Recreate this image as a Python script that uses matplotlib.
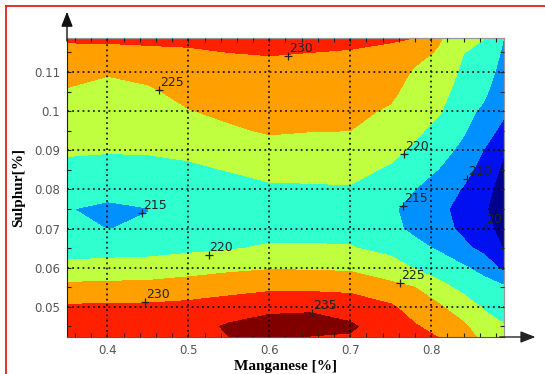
import matplotlib

matplotlib.use("Agg")
import matplotlib.pyplot as plt
import matplotlib.transforms as mtransforms
from matplotlib.lines import Line2D
from matplotlib.ticker import FixedLocator, MultipleLocator
import numpy as np

# 격자 (Mn, S) 위의 값 - 그림에서 읽은 추정치
mn = [0.35, 0.40, 0.45, 0.50, 0.55, 0.60, 0.65, 0.70, 0.75, 0.78, 0.81, 0.84, 0.865, 0.89]
s = [0.042, 0.045, 0.05, 0.055, 0.06, 0.065, 0.07, 0.075, 0.08,
     0.085, 0.09, 0.095, 0.10, 0.105, 0.11, 0.115, 0.119]

# 열 단위 (Mn 하나당 S 아래->위)
z_cols = [
    [232.3, 231.8, 230.6, 226.2, 221.4, 217.8, 215.5, 215.12, 216.0, 218.7, 220.6, 222.0, 223.3, 224.6, 226.6, 228.9, 230.7],
    [232.8, 232.3, 230.7, 226.4, 221.8, 218.1, 214.97, 214.4, 216.0, 218.5, 220.3, 221.5, 222.7, 223.9, 225.3, 228.6, 231.0],
    [233.2, 232.6, 230.8, 226.6, 222.05, 218.3, 215.2, 214.96, 215.7, 218.6, 220.4, 221.6, 222.9, 224.3, 226.3, 229.0, 231.2],
    [233.6, 233.0, 231.2, 227.5, 222.8, 219.0, 216.8, 216.1, 217.0, 219.1, 221.05, 222.9, 224.8, 226.4, 228.0, 229.6, 230.8],
    [234.9, 235.6, 232.3, 228.2, 223.9, 219.6, 217.6, 216.8, 217.9, 220.2, 222.3, 224.4, 225.9, 227.3, 228.6, 230.0, 231.3],
    [234.8, 236.1, 234.3, 228.8, 224.6, 220.6, 218.2, 217.3, 219.2, 221.35, 223.5, 225.4, 226.6, 227.8, 229.0, 230.2, 231.6],
    [234.7, 236.4, 234.4, 228.8, 224.45, 220.5, 218.4, 217.6, 219.4, 221.3, 223.2, 225.1, 226.3, 227.6, 228.8, 230.0, 231.3],
    [234.6, 235.5, 233.5, 228.4, 224.2, 220.3, 218.6, 218.1, 219.6, 221.3, 223.2, 225.0, 226.2, 227.4, 228.6, 229.8, 230.8],
    [233.5, 233.0, 230.7, 226.3, 222.1, 218.6, 216.2, 215.7, 216.9, 219.4, 221.2, 222.8, 224.4, 226.0, 227.6, 229.2, 230.5],
    [231.3, 230.4, 227.8, 225.0, 219.7, 216.4, 213.9, 213.3, 215.0, 217.2, 219.3, 220.8, 222.0, 223.1, 224.3, 226.75, 230.2],
    [230.0, 228.4, 225.6, 221.4, 217.6, 214.4, 212.0, 211.2, 212.6, 214.8, 216.8, 218.7, 220.4, 221.8, 223.1, 224.4, 225.6],
    [227.8, 225.8, 222.2, 218.8, 215.6, 211.2, 208.8, 208.2, 209.6, 211.7, 213.75, 215.5, 216.6, 217.8, 219.0, 220.1, 221.2],
    [223.6, 222.4, 219.5, 217.1, 213.3, 208.6, 206.5, 205.6, 206.6, 208.2, 209.9, 212.0, 214.1, 215.9, 217.5, 219.0, 220.2],
    [221.5, 220.3, 218.0, 215.7, 208.7, 204.7, 203.4, 202.5, 203.0, 204.0, 205.4, 208.7, 210.7, 211.8, 213.0, 214.1, 215.0],
]

levels = [200, 205, 210, 215, 220, 225, 230, 235, 240]
band_colors = ["#00008f", "#0010f0", "#0090ff", "#30ffd0",
               "#c0ff40", "#ffa000", "#ff2000", "#800000"]

# 등고선 라벨 (+ 표시 위치)
lab_x = [0.623, 0.464, 0.767, 0.844, 0.443, 0.765, 0.867, 0.525, 0.762, 0.447, 0.653]
lab_y = [0.1142, 0.1054, 0.0891, 0.0827, 0.074, 0.0758, 0.0704, 0.0632, 0.0562, 0.0513, 0.0485]
lab_txt = ["230", "225", "220", "210", "215", "215", "205", "220", "225", "230", "235"]

xticks = [0.4, 0.5, 0.6, 0.7, 0.8]
xtick_labels = ["0.4", "0.5", "0.6", "0.7", "0.8"]
yticks = [0.05, 0.06, 0.07, 0.08, 0.09, 0.10, 0.11]
ytick_labels = ["0.05", "0.06", "0.07", "0.08", "0.09", "0.1", "0.11"]

W, H = 545, 374
fig = plt.figure(figsize=(W / 100, H / 100), dpi=100)
ax = fig.add_axes([67 / W, 37 / H, 437 / W, 299 / H])

Z = np.array(z_cols).T
ax.contourf(mn, s, Z, levels=levels, colors=band_colors)

ax.set_xlim(0.35, 0.89)
ax.set_ylim(0.0423, 0.1187)

ax.xaxis.set_major_locator(FixedLocator(xticks))
ax.set_xticklabels(xtick_labels)
ax.yaxis.set_major_locator(FixedLocator(yticks))
ax.set_yticklabels(ytick_labels)
ax.xaxis.set_minor_locator(MultipleLocator(0.02))
ax.yaxis.set_minor_locator(MultipleLocator(0.005))
ax.tick_params(which="both", direction="in", top=True, right=True,
               length=3, width=0.8, color="#222", labelsize=8.5,
               labelcolor="#555")
ax.tick_params(axis="x", pad=5)
ax.tick_params(axis="y", pad=5)

ax.grid(True, which="major", color="black", linestyle=(0, (1.2, 2.2)), linewidth=1.1)
ax.set_axisbelow(False)

for side in ("top", "right"):
    ax.spines[side].set_color("#999")
    ax.spines[side].set_linewidth(0.9)
ax.spines["left"].set_color("#222")
ax.spines["bottom"].set_color("#555")

serif = dict(family="Liberation Serif", weight="bold", size=11)
ax.set_xlabel("Manganese [%]", fontdict=serif, labelpad=2)
ax.set_ylabel("Sulphur[%]", fontdict=serif, labelpad=6)

# 라벨: + 표시 와 숫자
ax.plot(lab_x, lab_y, "+", color="#222", markersize=6, markeredgewidth=0.9)
off = mtransforms.offset_copy(ax.transData, fig=fig, x=1, y=4, units="dots")
for x, y, t in zip(lab_x, lab_y, lab_txt):
    ax.text(x, y, t, transform=off, fontsize=9, color="#222",
            ha="left", va="baseline", clip_on=True)

# 축 화살표
ax.annotate("", xy=(0, 1.088), xytext=(0, 0.99), xycoords="axes fraction",
            arrowprops=dict(arrowstyle="-|>,head_length=0.9,head_width=0.35",
                            color="#111", lw=1, shrinkA=0, shrinkB=0),
            annotation_clip=False)
ax.annotate("", xy=(1.072, 0), xytext=(0.99, 0), xycoords="axes fraction",
            arrowprops=dict(arrowstyle="-|>,head_length=0.9,head_width=0.35",
                            color="#222", lw=1, shrinkA=0, shrinkB=0),
            annotation_clip=False)

# 빨간 테두리 (왼쪽, 위)
fig.add_artist(Line2D([6 / W, 6 / W], [0, 1 - 6 / H], color="#e02222", lw=1.3,
                      transform=fig.transFigure))
fig.add_artist(Line2D([6 / W, 1], [1 - 6 / H, 1 - 6 / H], color="#e02222", lw=1.3,
                      transform=fig.transFigure))

fig.savefig("out.png", dpi=100)
plt.close(fig)
